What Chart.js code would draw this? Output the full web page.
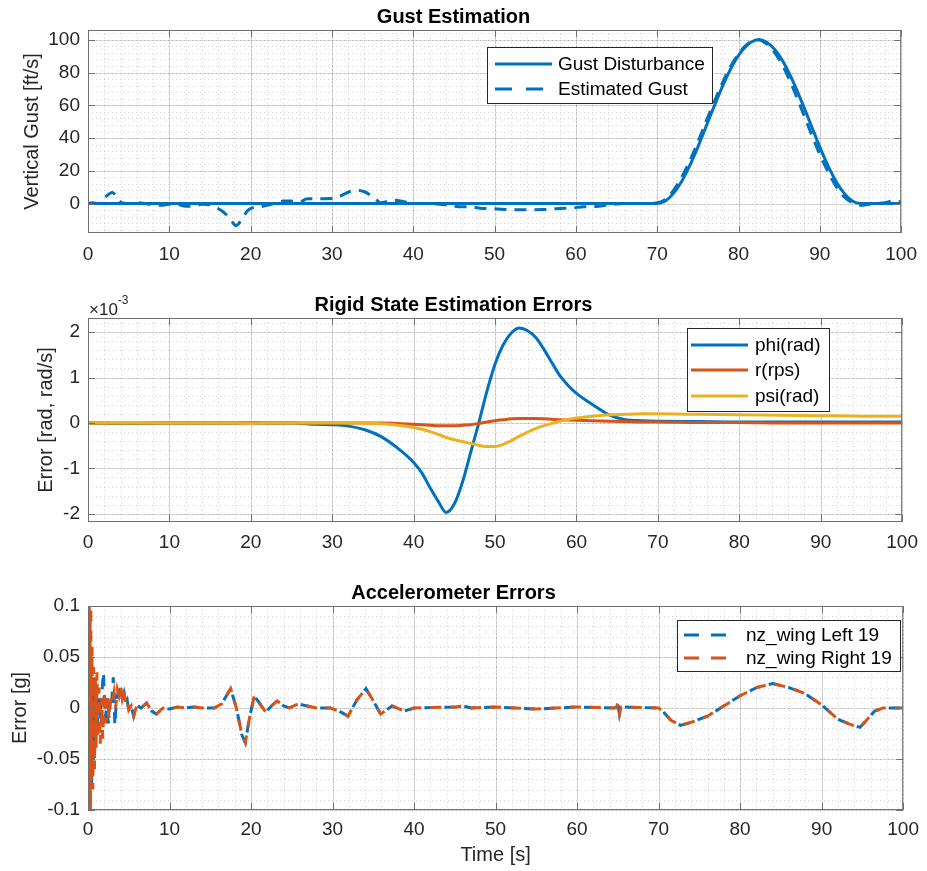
<!DOCTYPE html>
<html lang="en">
<head>
<meta charset="UTF-8">
<title>Gust Estimation</title>
<script src="https://cdn.jsdelivr.net/npm/chart.js"></script>
<style>
    body { margin: 0; background: #fff; }
    .panel { position: absolute; left: 0; width: 927px; }
</style>
</head>
<body>
<div class="panel" style="top:0px"><canvas id="gustChart" width="927" height="273"></canvas></div>
<div class="panel" style="top:288px"><canvas id="rigidChart" width="927" height="274"></canvas></div>
<div class="panel" style="top:576px"><canvas id="accelChart" width="927" height="295"></canvas></div>
<script>
// ---- data ----
const xTicks = [0, 10, 20, 30, 40, 50, 60, 70, 80, 90, 100];

// Gust Estimation [ft/s]
const gustTicks = [0, 20, 40, 60, 80, 100];
const gustTime = [0, 70, 71, 72, 73, 74, 75, 76, 77, 78,
    79, 80, 81, 82, 82.5, 83, 84, 85, 86, 87,
    88, 89, 90, 91, 92, 93, 94, 95, 100];
const gustDisturbance = [0, 0, 1.6, 6.2, 13.5, 23.2, 34.5, 46.9, 59.4, 71.3,
    81.9, 90.5, 96.5, 99.6, 100, 99.6, 96.5, 90.5, 81.9, 71.3,
    59.4, 46.9, 34.5, 23.2, 13.5, 6.2, 1.6, 0, 0];
const estTime = [0, 0.6, 1.2, 1.8, 3, 3.6, 4.2, 5, 6, 7,
    8, 9, 10, 11, 12, 13, 14, 15, 16, 16.8,
    17.5, 18.2, 19, 19.6, 20.3, 21, 22, 23, 24, 25,
    26, 27, 29, 30, 31, 32.3, 33.2, 34, 35.3, 36,
    37, 38, 39, 40, 42, 44, 45, 46, 47, 48.5,
    50, 52, 54, 56, 58, 59.4, 61, 62.8, 64, 66,
    68, 70, 71, 72, 73, 74, 75, 76, 77, 78,
    79, 80, 81, 82, 82.5, 83, 84, 85, 86, 87,
    88, 89, 90, 91, 92, 93, 94, 95, 96, 97,
    98, 99, 100];
const estGust = [0, 0.5, 0, 2.5, 6.8, 3.5, 0.3, 0, 0.6, 0,
    -0.8, -1, -0.4, -0.5, -1.6, -1.6, -0.5, -0.8, -3, -5.8,
    -9.5, -13.5, -9, -4.5, -2.5, -2.2, -1, 0, 1.5, 1.5,
    1, 2.9, 2.9, 3, 4.5, 7.5, 8, 7.2, 3, 0.5,
    1.5, 1.8, 1, 0, 0, -0.8, -1.6, -2, -2, -3,
    -3.2, -3.8, -3.8, -3.7, -3, -2.7, -2, -1.6, -0.8, 0,
    0, 0.5, 2.5, 8, 16, 26, 37.5, 50, 62, 73.5,
    83.5, 91.5, 97, 99.8, 100, 99, 95, 88, 78.5, 67,
    54.5, 42, 30, 19.5, 10.5, 4, 0.5, -1, -0.5, 0,
    0.5, 1.5, 1];

// Rigid State Estimation Errors (values x 1e-3)
const rigidTicks = [-2, -1, 0, 1, 2];
const rigidTime = [0, 5, 10, 15, 18, 20, 22, 25, 28, 30,
    32, 34, 36, 38, 40, 41, 42, 43, 44, 45,
    46, 47, 48, 49, 50, 51, 52, 53, 54, 55,
    56, 57, 58, 59, 60, 62, 64, 66, 68, 70,
    75, 80, 85, 90, 95, 100];
const phiErr = [0, -0.01, 0, 0, 0, 0.01, 0, 0, -0.03, -0.04,
    -0.07, -0.15, -0.3, -0.55, -0.87, -1.1, -1.42, -1.72, -1.97, -1.78,
    -1.3, -0.65, 0, 0.7, 1.3, 1.72, 1.98, 2.09, 2.03, 1.88,
    1.62, 1.32, 1.03, 0.82, 0.65, 0.4, 0.18, 0.07, 0.05, 0.04,
    0.03, 0.02, 0.02, 0.02, 0.02, 0.02];
const rErr = [0, 0, 0, 0, 0, 0, 0, 0, 0, 0,
    0, 0, 0, -0.01, -0.03, -0.04, -0.05, -0.06, -0.06, -0.06,
    -0.05, -0.04, -0.01, 0.02, 0.05, 0.07, 0.09, 0.1, 0.1, 0.1,
    0.09, 0.08, 0.07, 0.065, 0.06, 0.05, 0.04, 0.03, 0.02, 0.02,
    0.01, 0.01, 0, 0, 0, 0];
const psiErr = [0, 0, 0, 0, 0, 0, 0, 0, 0, 0,
    0, 0, -0.02, -0.05, -0.1, -0.14, -0.19, -0.25, -0.32, -0.37,
    -0.41, -0.45, -0.49, -0.52, -0.52, -0.47, -0.39, -0.29, -0.2, -0.12,
    -0.06, -0.01, 0.04, 0.08, 0.11, 0.15, 0.18, 0.19, 0.2, 0.2,
    0.19, 0.18, 0.17, 0.16, 0.15, 0.15];

// Accelerometer Errors [g]
const accTicks = [-0.1, -0.05, 0, 0.05, 0.1];
const leftEarlyTime = [0, 0.05, 0.1, 0.15, 0.2, 0.3, 0.4, 0.45, 0.55, 0.65,
    0.75, 0.85, 1.0, 1.1, 1.3, 1.5, 1.7, 1.9, 2.1, 2.3,
    2.5, 2.7, 2.9, 3.1, 3.3, 3.5, 3.7, 4.0, 4.2, 4.4,
    4.6, 4.8, 5.0, 5.3, 5.6, 6.0];
const leftEarly = [0, -0.04, 0.04, -0.06, 0.03, -0.08, 0.02, -0.08, 0.01, -0.05,
    0.03, -0.03, 0.02, -0.02, 0.01, -0.01, 0.015, 0.035, -0.01, 0,
    -0.015, 0.01, 0.005, 0.03, -0.017, 0.01, 0.015, 0.02, 0.01, 0.015,
    0.005, 0.008, -0.002, 0.002, -0.008, 0.003];
const rightEarlyTime = [0, 0.05, 0.1, 0.15, 0.2, 0.25, 0.3, 0.35, 0.4, 0.5,
    0.6, 0.7, 0.8, 0.9, 1.0, 1.1, 1.2, 1.35, 1.5, 1.7,
    1.8, 2.0, 2.2, 2.4, 2.6, 2.8, 3.0, 3.2, 3.4, 3.6,
    3.8, 4.0, 4.2, 4.4, 4.6, 4.8, 5.0, 5.3, 5.6, 6.0];
const rightEarly = [0, 0.1, -0.1, 0.1, -0.1, 0.09, -0.1, 0.1, -0.07, 0.06,
    -0.08, 0.04, -0.06, 0.03, -0.04, 0.035, -0.03, 0.02, -0.035, 0.01,
    -0.03, 0.015, -0.015, 0.01, -0.01, 0.01, 0.005, 0.015, 0, 0.018,
    0.012, 0.022, 0.01, 0.018, 0.005, 0.008, -0.002, 0.002, -0.008, 0.003];
const accTailTime = [6.5, 7.2, 7.8, 8.4, 9.2, 10, 11, 12, 13, 14,
    15.5, 16.4, 17.5, 18.2, 18.9, 19.3, 19.8, 20.4, 21.1, 21.8,
    22.5, 23.2, 24, 24.7, 25.8, 26.9, 28, 29.7, 30.8, 31.9,
    33, 34.1, 35, 35.9, 37.3, 38.8, 40, 45, 46, 47,
    50, 55, 60, 64.8, 65, 65.2, 65.4, 70, 70.5, 71.5,
    72.7, 74, 76, 78, 80, 82, 84, 86, 88, 90,
    92, 93.5, 94.7, 95.5, 96.5, 97.5, 100];
const accTail = [0, 0.005, -0.003, -0.006, 0, -0.001, 0.001, 0, 0.001, 0,
    0, 0.004, 0.019, 0, -0.027, -0.034, -0.01, 0.012, 0.004, -0.004,
    0.002, 0.007, 0.002, 0, 0.004, 0.002, 0, 0, -0.003, -0.008,
    0.008, 0.019, 0.007, -0.006, 0.002, -0.003, 0, 0.001, 0.002, 0,
    0.001, -0.001, 0.001, 0, 0.005, -0.006, 0.001, 0, -0.003, -0.012,
    -0.017, -0.014, -0.008, 0.002, 0.012, 0.02, 0.024, 0.02, 0.014, 0.003,
    -0.011, -0.016, -0.019, -0.012, -0.003, 0, 0];

// ---- drawing ----
const FONT = "'Liberation Sans', Arial, Helvetica, sans-serif";
Chart.defaults.font.family = FONT;
Chart.defaults.color = '#262626';

const BLUE = '#0072BD', ORANGE = '#D95319', YELLOW = '#EDB120';

function pts(xs, ys) {
    return xs.map((x, i) => ({ x: x, y: ys[i] }));
}

function eachStep(min, max, step, fn) {
    for (let i = Math.ceil(min / step - 1e-9); i * step <= max + 1e-9; i++) fn(i * step);
}

// MATLAB-like axes: minor/major grid, box with inner ticks, legend box, exponent
const matlabAxes = {
    id: 'matlabAxes',
    beforeDatasetsDraw(chart, args, o) {
        const { ctx, chartArea: a } = chart;
        const xs = chart.scales.x, ys = chart.scales.y;
        const vl = v => { const p = Math.round(xs.getPixelForValue(v)) + 0.5; ctx.beginPath(); ctx.moveTo(p, a.top); ctx.lineTo(p, a.bottom); ctx.stroke(); };
        const hl = v => { const p = Math.round(ys.getPixelForValue(v)) + 0.5; ctx.beginPath(); ctx.moveTo(a.left, p); ctx.lineTo(a.right, p); ctx.stroke(); };
        ctx.save();
        ctx.lineWidth = 1;
        ctx.strokeStyle = 'rgba(38,38,38,0.2)';
        ctx.setLineDash([1, 3]);
        eachStep(xs.min, xs.max, o.xMinor, vl);
        eachStep(ys.min, ys.max, o.yMinor, hl);
        ctx.setLineDash([]);
        ctx.strokeStyle = 'rgba(38,38,38,0.17)';
        xs.ticks.forEach(t => vl(t.value));
        ys.ticks.forEach(t => hl(t.value));
        ctx.restore();
    },
    afterDatasetsDraw(chart, args, o) {
        const { ctx, chartArea: a } = chart;
        const xs = chart.scales.x, ys = chart.scales.y;
        ctx.save();
        ctx.strokeStyle = '#707070';
        ctx.lineWidth = 1;
        ctx.strokeRect(a.left + 0.5, a.top + 0.5, a.right - a.left - 1, a.bottom - a.top - 1);
        ctx.beginPath();
        xs.ticks.forEach(t => {
            const p = Math.round(xs.getPixelForValue(t.value)) + 0.5;
            ctx.moveTo(p, a.bottom); ctx.lineTo(p, a.bottom - 7);
            ctx.moveTo(p, a.top); ctx.lineTo(p, a.top + 7);
        });
        ys.ticks.forEach(t => {
            const p = Math.round(ys.getPixelForValue(t.value)) + 0.5;
            ctx.moveTo(a.left, p); ctx.lineTo(a.left + 7, p);
            ctx.moveTo(a.right, p); ctx.lineTo(a.right - 7, p);
        });
        ctx.stroke();

        if (o.exponent) {
            ctx.fillStyle = '#262626';
            ctx.textBaseline = 'alphabetic';
            ctx.font = '17px ' + FONT;
            ctx.fillText('\u00d710', a.left + 1, a.top - 3);
            const w = ctx.measureText('\u00d710').width;
            ctx.font = '12px ' + FONT;
            ctx.fillText(o.exponent, a.left + 1 + w, a.top - 14);
        }

        const lg = o.legend;
        if (lg) {
            ctx.fillStyle = '#fff';
            ctx.fillRect(lg.x, lg.y, lg.w, lg.h);
            ctx.strokeStyle = '#262626';
            ctx.strokeRect(lg.x + 0.5, lg.y + 0.5, lg.w, lg.h);
            ctx.font = '19px ' + FONT;
            ctx.textBaseline = 'middle';
            chart.data.datasets.forEach((ds, i) => {
                const yy = lg.rows[i];
                ctx.strokeStyle = ds.borderColor;
                ctx.lineWidth = ds.borderWidth;
                ctx.setLineDash(lg.dashes ? lg.dashes[i] : []);
                ctx.beginPath(); ctx.moveTo(lg.x0, yy); ctx.lineTo(lg.x1, yy); ctx.stroke();
                ctx.setLineDash([]);
                ctx.fillStyle = '#000';
                ctx.fillText(ds.label, lg.tx, yy + 1);
            });
        }
        ctx.restore();
    }
};

function makeChart(id, cfg) {
    return new Chart(document.getElementById(id), {
        type: 'line',
        data: { datasets: cfg.datasets },
        plugins: [matlabAxes],
        options: {
            responsive: false,
            animation: false,
            layout: { padding: { right: 20 } },
            elements: { point: { radius: 0 }, line: { cubicInterpolationMode: 'monotone' } },
            plugins: {
                legend: { display: false },
                tooltip: { enabled: false },
                title: {
                    display: true, text: cfg.title, color: '#000',
                    font: { size: 20, weight: 'bold' }, padding: { top: 5, bottom: 1 }
                },
                matlabAxes: cfg.axes
            },
            scales: {
                x: {
                    type: 'linear', min: 0, max: 100,
                    grid: { display: false, drawTicks: false },
                    border: { display: false },
                    ticks: { padding: cfg.xPad, font: { size: 19 }, maxRotation: 0, callback: v => String(v) },
                    afterBuildTicks: s => { s.ticks = xTicks.map(v => ({ value: v })); },
                    afterFit: s => { s.height = cfg.xHeight; },
                    title: cfg.xTitle ? { display: true, text: cfg.xTitle, font: { size: 20 }, padding: { bottom: 4 } } : { display: false }
                },
                y: {
                    type: 'linear', min: cfg.yMin, max: cfg.yMax,
                    grid: { display: false, drawTicks: false },
                    border: { display: false },
                    ticks: { padding: 8, font: { size: 19 }, callback: v => String(v) },
                    afterBuildTicks: s => { s.ticks = cfg.yTicks.map(v => ({ value: v })); },
                    afterFit: s => { s.width = 88; },
                    title: { display: true, text: cfg.yTitle, font: { size: 20 }, padding: { top: cfg.yTitlePad } }
                }
            }
        }
    });
}

makeChart('gustChart', {
    title: 'Gust Estimation',
    yTitle: 'Vertical Gust [ft/s]', yTitlePad: 20,
    yMin: -18, yMax: 106, yTicks: gustTicks,
    xHeight: 40, xPad: 10,
    axes: {
        xMinor: 2, yMinor: 4,
        legend: { x: 487, y: 47, w: 225, h: 56, rows: [64, 89], x0: 495, x1: 552, tx: 558, dashes: [[], [17, 14]] }
    },
    datasets: [
        { label: 'Gust Disturbance', data: pts(gustTime, gustDisturbance), borderColor: BLUE, borderWidth: 3, order: 2 },
        { label: 'Estimated Gust', data: pts(estTime, estGust), borderColor: BLUE, borderWidth: 3, borderDash: [12, 8], order: 1 }
    ]
});

makeChart('rigidChart', {
    title: 'Rigid State Estimation Errors',
    yTitle: 'Error [rad, rad/s]', yTitlePad: 34.5,
    yMin: -2.18, yMax: 2.31, yTicks: rigidTicks,
    xHeight: 40, xPad: 9,
    axes: {
        xMinor: 2, yMinor: 0.2, exponent: '-3',
        legend: { x: 687, y: 40, w: 142, h: 83, rows: [57, 82, 108], x0: 691, x1: 748, tx: 755 }
    },
    datasets: [
        { label: 'phi(rad)', data: pts(rigidTime, phiErr), borderColor: BLUE, borderWidth: 3, order: 3 },
        { label: 'r(rps)', data: pts(rigidTime, rErr), borderColor: ORANGE, borderWidth: 3, order: 2 },
        { label: 'psi(rad)', data: pts(rigidTime, psiErr), borderColor: YELLOW, borderWidth: 3, order: 1 }
    ]
});

makeChart('accelChart', {
    title: 'Accelerometer Errors',
    yTitle: 'Error [g]', yTitlePad: 8,
    yMin: -0.1, yMax: 0.1, yTicks: accTicks,
    xHeight: 61, xPad: 8, xTitle: 'Time [s]',
    axes: {
        xMinor: 2, yMinor: 0.01,
        legend: { x: 677, y: 44, w: 223, h: 51, rows: [59, 82], x0: 684, x1: 728, tx: 746, dashes: [[15, 12], [15, 12]] }
    },
    datasets: [
        { label: 'nz_wing Left 19', data: pts(leftEarlyTime.concat(accTailTime), leftEarly.concat(accTail)),
          borderColor: BLUE, borderWidth: 3, borderDash: [11, 9], order: 2, cubicInterpolationMode: 'default', tension: 0 },
        { label: 'nz_wing Right 19', data: pts(rightEarlyTime.concat(accTailTime), rightEarly.concat(accTail)),
          borderColor: ORANGE, borderWidth: 3, borderDash: [11, 9], borderDashOffset: 10, order: 1, cubicInterpolationMode: 'default', tension: 0 }
    ]
});
</script>
</body>
</html>
